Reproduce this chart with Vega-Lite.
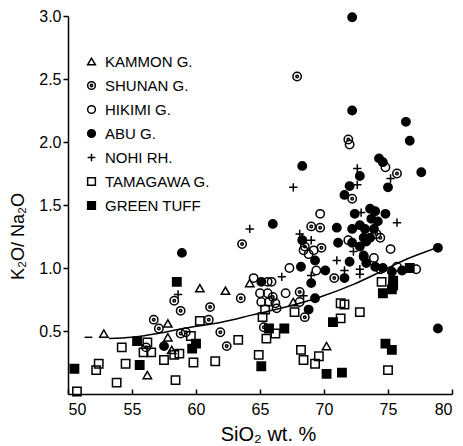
{
  "$schema": "https://vega.github.io/schema/vega-lite/v6.json",
  "width": 384,
  "height": 378,
  "autosize": "none",
  "padding": {"left": 68, "top": 16, "right": 11, "bottom": 52},
  "background": "white",
  "config": {
    "view": {"stroke": null},
    "font": "Liberation Sans",
    "axis": {"grid": false, "domainColor": "black", "tickColor": "black", "labelColor": "black", "titleColor": "black", "domainWidth": 1.5, "tickWidth": 1.5, "labelFontSize": 16, "titleFontWeight": "normal", "titleFont": "Liberation Sans", "labelFont": "Liberation Sans"},
    "legend": {"title": null, "orient": "none", "legendX": 16, "legendY": 38, "padding": 0, "rowPadding": 8, "labelFontSize": 15, "labelColor": "black", "labelFont": "Liberation Sans", "symbolStrokeWidth": 1.5, "symbolSize": 60, "labelOffset": 6}
  },
  "datasets": {
    "pts": [
      {"g": "KAMMON G.", "x": 52.8, "y": 0.48},
      {"g": "KAMMON G.", "x": 57.8, "y": 0.56},
      {"g": "KAMMON G.", "x": 57.8, "y": 0.45},
      {"g": "KAMMON G.", "x": 58.1, "y": 0.35},
      {"g": "KAMMON G.", "x": 56.2, "y": 0.15},
      {"g": "KAMMON G.", "x": 60.3, "y": 0.84},
      {"g": "KAMMON G.", "x": 62.3, "y": 0.82},
      {"g": "KAMMON G.", "x": 64.2, "y": 0.88},
      {"g": "KAMMON G.", "x": 67.6, "y": 0.73},
      {"g": "KAMMON G.", "x": 70.2, "y": 0.38},

      {"g": "SHUNAN G.", "x": 67.9, "y": 2.52},
      {"g": "SHUNAN G.", "x": 71.9, "y": 2.02},
      {"g": "SHUNAN G.", "x": 75.7, "y": 1.75},
      {"g": "SHUNAN G.", "x": 72.2, "y": 1.55},
      {"g": "SHUNAN G.", "x": 69.0, "y": 1.33},
      {"g": "SHUNAN G.", "x": 69.7, "y": 1.32},
      {"g": "SHUNAN G.", "x": 63.6, "y": 1.19},
      {"g": "SHUNAN G.", "x": 68.5, "y": 1.17},
      {"g": "SHUNAN G.", "x": 69.8, "y": 1.16},
      {"g": "SHUNAN G.", "x": 74.1, "y": 1.27},
      {"g": "SHUNAN G.", "x": 74.4, "y": 1.24},
      {"g": "SHUNAN G.", "x": 70.8, "y": 0.92},
      {"g": "SHUNAN G.", "x": 68.1, "y": 0.81},
      {"g": "SHUNAN G.", "x": 68.5, "y": 0.61},
      {"g": "SHUNAN G.", "x": 58.3, "y": 0.74},
      {"g": "SHUNAN G.", "x": 58.8, "y": 0.66},
      {"g": "SHUNAN G.", "x": 56.7, "y": 0.59},
      {"g": "SHUNAN G.", "x": 57.1, "y": 0.52},
      {"g": "SHUNAN G.", "x": 58.8, "y": 0.48},
      {"g": "SHUNAN G.", "x": 59.2, "y": 0.49},
      {"g": "SHUNAN G.", "x": 61.1, "y": 0.69},
      {"g": "SHUNAN G.", "x": 61.0, "y": 0.59},
      {"g": "SHUNAN G.", "x": 61.9, "y": 0.49},
      {"g": "SHUNAN G.", "x": 62.4, "y": 0.38},
      {"g": "SHUNAN G.", "x": 63.5, "y": 0.76},
      {"g": "SHUNAN G.", "x": 65.3, "y": 0.53},
      {"g": "SHUNAN G.", "x": 56.1, "y": 0.37},
      {"g": "SHUNAN G.", "x": 66.0, "y": 0.77},

      {"g": "HIKIMI G.", "x": 72.0, "y": 1.98},
      {"g": "HIKIMI G.", "x": 74.8, "y": 1.80},
      {"g": "HIKIMI G.", "x": 69.7, "y": 1.43},
      {"g": "HIKIMI G.", "x": 68.4, "y": 1.14},
      {"g": "HIKIMI G.", "x": 68.8, "y": 1.11},
      {"g": "HIKIMI G.", "x": 69.2, "y": 1.14},
      {"g": "HIKIMI G.", "x": 71.9, "y": 1.22},
      {"g": "HIKIMI G.", "x": 73.1, "y": 1.10},
      {"g": "HIKIMI G.", "x": 73.9, "y": 1.08},
      {"g": "HIKIMI G.", "x": 75.2, "y": 1.15},
      {"g": "HIKIMI G.", "x": 75.7, "y": 1.01},
      {"g": "HIKIMI G.", "x": 77.2, "y": 0.99},
      {"g": "HIKIMI G.", "x": 67.3, "y": 1.00},
      {"g": "HIKIMI G.", "x": 65.9, "y": 0.89},
      {"g": "HIKIMI G.", "x": 64.5, "y": 0.92},
      {"g": "HIKIMI G.", "x": 65.6, "y": 0.89},
      {"g": "HIKIMI G.", "x": 67.0, "y": 0.80},
      {"g": "HIKIMI G.", "x": 65.0, "y": 0.80},
      {"g": "HIKIMI G.", "x": 65.6, "y": 0.80},
      {"g": "HIKIMI G.", "x": 65.1, "y": 0.73},
      {"g": "HIKIMI G.", "x": 65.7, "y": 0.73},
      {"g": "HIKIMI G.", "x": 66.2, "y": 0.72},
      {"g": "HIKIMI G.", "x": 66.3, "y": 0.68},
      {"g": "HIKIMI G.", "x": 68.1, "y": 0.73},
      {"g": "HIKIMI G.", "x": 69.4, "y": 0.98},
      {"g": "HIKIMI G.", "x": 74.4, "y": 0.99},

      {"g": "ABU G.", "x": 72.2, "y": 2.99},
      {"g": "ABU G.", "x": 72.2, "y": 2.25},
      {"g": "ABU G.", "x": 76.4, "y": 2.16},
      {"g": "ABU G.", "x": 76.7, "y": 2.01},
      {"g": "ABU G.", "x": 68.3, "y": 1.81},
      {"g": "ABU G.", "x": 74.3, "y": 1.87},
      {"g": "ABU G.", "x": 74.6, "y": 1.84},
      {"g": "ABU G.", "x": 72.8, "y": 1.73},
      {"g": "ABU G.", "x": 77.6, "y": 1.76},
      {"g": "ABU G.", "x": 72.0, "y": 1.65},
      {"g": "ABU G.", "x": 75.0, "y": 1.64},
      {"g": "ABU G.", "x": 71.6, "y": 1.58},
      {"g": "ABU G.", "x": 72.4, "y": 1.43},
      {"g": "ABU G.", "x": 73.6, "y": 1.47},
      {"g": "ABU G.", "x": 74.0, "y": 1.45},
      {"g": "ABU G.", "x": 74.8, "y": 1.43},
      {"g": "ABU G.", "x": 73.7, "y": 1.39},
      {"g": "ABU G.", "x": 74.2, "y": 1.37},
      {"g": "ABU G.", "x": 66.0, "y": 1.35},
      {"g": "ABU G.", "x": 71.0, "y": 1.32},
      {"g": "ABU G.", "x": 72.2, "y": 1.31},
      {"g": "ABU G.", "x": 72.8, "y": 1.34},
      {"g": "ABU G.", "x": 73.2, "y": 1.31},
      {"g": "ABU G.", "x": 73.9, "y": 1.31},
      {"g": "ABU G.", "x": 68.3, "y": 1.22},
      {"g": "ABU G.", "x": 71.1, "y": 1.20},
      {"g": "ABU G.", "x": 72.2, "y": 1.20},
      {"g": "ABU G.", "x": 72.8, "y": 1.17},
      {"g": "ABU G.", "x": 73.1, "y": 1.24},
      {"g": "ABU G.", "x": 73.6, "y": 1.24},
      {"g": "ABU G.", "x": 73.3, "y": 1.21},
      {"g": "ABU G.", "x": 78.9, "y": 1.16},
      {"g": "ABU G.", "x": 69.3, "y": 1.06},
      {"g": "ABU G.", "x": 72.0, "y": 1.05},
      {"g": "ABU G.", "x": 73.3, "y": 1.04},
      {"g": "ABU G.", "x": 68.2, "y": 1.01},
      {"g": "ABU G.", "x": 74.0, "y": 1.01},
      {"g": "ABU G.", "x": 74.6, "y": 1.00},
      {"g": "ABU G.", "x": 70.1, "y": 0.98},
      {"g": "ABU G.", "x": 75.3, "y": 0.97},
      {"g": "ABU G.", "x": 76.1, "y": 0.98},
      {"g": "ABU G.", "x": 71.6, "y": 0.92},
      {"g": "ABU G.", "x": 69.0, "y": 0.88},
      {"g": "ABU G.", "x": 69.3, "y": 0.76},
      {"g": "ABU G.", "x": 68.8, "y": 0.67},
      {"g": "ABU G.", "x": 65.1, "y": 0.89},
      {"g": "ABU G.", "x": 58.9, "y": 1.12},
      {"g": "ABU G.", "x": 57.5, "y": 0.38},
      {"g": "ABU G.", "x": 78.9, "y": 0.52},
      {"g": "ABU G.", "x": 73.1, "y": 1.09},

      {"g": "NOHI RH.", "x": 72.6, "y": 1.79},
      {"g": "NOHI RH.", "x": 75.2, "y": 1.71},
      {"g": "NOHI RH.", "x": 67.6, "y": 1.64},
      {"g": "NOHI RH.", "x": 72.6, "y": 1.66},
      {"g": "NOHI RH.", "x": 72.9, "y": 1.44},
      {"g": "NOHI RH.", "x": 75.7, "y": 1.36},
      {"g": "NOHI RH.", "x": 64.2, "y": 1.31},
      {"g": "NOHI RH.", "x": 68.1, "y": 1.27},
      {"g": "NOHI RH.", "x": 68.3, "y": 1.24},
      {"g": "NOHI RH.", "x": 69.0, "y": 1.22},
      {"g": "NOHI RH.", "x": 72.3, "y": 1.13},
      {"g": "NOHI RH.", "x": 71.0, "y": 1.06},
      {"g": "NOHI RH.", "x": 72.8, "y": 0.99},
      {"g": "NOHI RH.", "x": 72.8, "y": 0.95},
      {"g": "NOHI RH.", "x": 71.6, "y": 0.98},
      {"g": "NOHI RH.", "x": 66.7, "y": 0.93},
      {"g": "NOHI RH.", "x": 69.0, "y": 0.94},
      {"g": "NOHI RH.", "x": 68.4, "y": 0.78},
      {"g": "NOHI RH.", "x": 58.6, "y": 0.79},

      {"g": "TAMAGAWA G.", "x": 50.7, "y": 0.02},
      {"g": "TAMAGAWA G.", "x": 52.4, "y": 0.24},
      {"g": "TAMAGAWA G.", "x": 52.2, "y": 0.19},
      {"g": "TAMAGAWA G.", "x": 53.8, "y": 0.09},
      {"g": "TAMAGAWA G.", "x": 54.2, "y": 0.37},
      {"g": "TAMAGAWA G.", "x": 54.5, "y": 0.24},
      {"g": "TAMAGAWA G.", "x": 56.2, "y": 0.41},
      {"g": "TAMAGAWA G.", "x": 55.9, "y": 0.33},
      {"g": "TAMAGAWA G.", "x": 56.5, "y": 0.33},
      {"g": "TAMAGAWA G.", "x": 57.5, "y": 0.27},
      {"g": "TAMAGAWA G.", "x": 58.3, "y": 0.31},
      {"g": "TAMAGAWA G.", "x": 58.7, "y": 0.32},
      {"g": "TAMAGAWA G.", "x": 58.4, "y": 0.11},
      {"g": "TAMAGAWA G.", "x": 59.6, "y": 0.46},
      {"g": "TAMAGAWA G.", "x": 60.3, "y": 0.58},
      {"g": "TAMAGAWA G.", "x": 59.8, "y": 0.25},
      {"g": "TAMAGAWA G.", "x": 61.5, "y": 0.26},
      {"g": "TAMAGAWA G.", "x": 63.3, "y": 0.43},
      {"g": "TAMAGAWA G.", "x": 64.9, "y": 0.31},
      {"g": "TAMAGAWA G.", "x": 65.4, "y": 0.67},
      {"g": "TAMAGAWA G.", "x": 65.2, "y": 0.61},
      {"g": "TAMAGAWA G.", "x": 65.5, "y": 0.44},
      {"g": "TAMAGAWA G.", "x": 66.2, "y": 0.48},
      {"g": "TAMAGAWA G.", "x": 67.7, "y": 0.65},
      {"g": "TAMAGAWA G.", "x": 68.2, "y": 0.35},
      {"g": "TAMAGAWA G.", "x": 68.4, "y": 0.27},
      {"g": "TAMAGAWA G.", "x": 69.3, "y": 0.24},
      {"g": "TAMAGAWA G.", "x": 69.6, "y": 0.30},
      {"g": "TAMAGAWA G.", "x": 71.3, "y": 0.72},
      {"g": "TAMAGAWA G.", "x": 71.6, "y": 0.71},
      {"g": "TAMAGAWA G.", "x": 72.8, "y": 0.65},
      {"g": "TAMAGAWA G.", "x": 71.3, "y": 0.60},
      {"g": "TAMAGAWA G.", "x": 74.5, "y": 0.89},
      {"g": "TAMAGAWA G.", "x": 75.0, "y": 0.19},

      {"g": "GREEN TUFF", "x": 50.5, "y": 0.20},
      {"g": "GREEN TUFF", "x": 55.4, "y": 0.42},
      {"g": "GREEN TUFF", "x": 55.6, "y": 0.23},
      {"g": "GREEN TUFF", "x": 58.5, "y": 0.89},
      {"g": "GREEN TUFF", "x": 60.0, "y": 0.40},
      {"g": "GREEN TUFF", "x": 59.7, "y": 0.36},
      {"g": "GREEN TUFF", "x": 65.7, "y": 0.52},
      {"g": "GREEN TUFF", "x": 66.9, "y": 0.52},
      {"g": "GREEN TUFF", "x": 65.1, "y": 0.22},
      {"g": "GREEN TUFF", "x": 70.2, "y": 0.16},
      {"g": "GREEN TUFF", "x": 71.4, "y": 0.17},
      {"g": "GREEN TUFF", "x": 70.7, "y": 0.57},
      {"g": "GREEN TUFF", "x": 74.8, "y": 0.40},
      {"g": "GREEN TUFF", "x": 75.3, "y": 0.35},
      {"g": "GREEN TUFF", "x": 75.4, "y": 0.90},
      {"g": "GREEN TUFF", "x": 75.4, "y": 0.86},
      {"g": "GREEN TUFF", "x": 75.3, "y": 0.83},
      {"g": "GREEN TUFF", "x": 74.6, "y": 0.80},
      {"g": "GREEN TUFF", "x": 76.7, "y": 1.00}
    ],
    "curve": [
      {"s": "a", "x": 51.3, "y": 0.45},
      {"s": "a", "x": 51.9, "y": 0.45},
      {"s": "b", "x": 53.2, "y": 0.44},
      {"s": "b", "x": 55.0, "y": 0.45},
      {"s": "b", "x": 57.0, "y": 0.48},
      {"s": "b", "x": 59.0, "y": 0.52},
      {"s": "b", "x": 62.0, "y": 0.57},
      {"s": "b", "x": 64.5, "y": 0.63},
      {"s": "b", "x": 67.0, "y": 0.69},
      {"s": "b", "x": 69.7, "y": 0.77},
      {"s": "b", "x": 72.3, "y": 0.87},
      {"s": "b", "x": 74.0, "y": 0.95},
      {"s": "b", "x": 76.0, "y": 1.05},
      {"s": "b", "x": 79.1, "y": 1.17}
    ]
  },
  "layer": [
    {
      "data": {"name": "curve"},
      "mark": {"type": "line", "color": "black", "strokeWidth": 1.5, "interpolate": "monotone"},
      "encoding": {
        "x": {"field": "x", "type": "quantitative"},
        "y": {"field": "y", "type": "quantitative"},
        "detail": {"field": "s"}
      }
    },
    {
      "data": {"name": "pts"},
      "mark": {"type": "point", "size": 70, "strokeWidth": 1.5, "opacity": 1},
      "encoding": {
        "x": {
          "field": "x", "type": "quantitative",
          "scale": {"domain": [50, 80], "nice": false, "zero": false},
          "axis": {"values": [50, 55, 60, 65, 70, 75, 80], "tickSize": -5, "labelPadding": 12, "title": "SiO₂  wt. %", "titleFontSize": 20, "titleX": 200, "titleY": 40, "titleAnchor": null, "titleAlign": "center", "titleBaseline": "middle"}
        },
        "y": {
          "field": "y", "type": "quantitative",
          "scale": {"domain": [0, 3], "nice": false},
          "axis": {"values": [0.5, 1, 1.5, 2, 2.5, 3], "format": ".1f", "tickSize": 5, "labelPadding": 2, "title": "K₂O/ Na₂O", "titleFontSize": 18, "titleX": -50, "titleY": 220, "titleAlign": "center", "titleBaseline": "middle", "titleAngle": -90}
        },
        "shape": {
          "field": "g", "type": "nominal",
          "scale": {
            "domain": ["KAMMON G.", "SHUNAN G.", "HIKIMI G.", "ABU G.", "NOHI RH.", "TAMAGAWA G.", "GREEN TUFF"],
            "range": ["triangle-up", "M-1,0A1,1,0,1,1,1,0A1,1,0,1,1,-1,0ZM-0.3,0A0.3,0.3,0,1,1,0.3,0A0.3,0.3,0,1,1,-0.3,0Z", "circle", "circle", "M-1,0L1,0M0,-1L0,1", "square", "square"]
          },
          "legend": {}
        },
        "fill": {
          "field": "g", "type": "nominal",
          "scale": {
            "domain": ["KAMMON G.", "SHUNAN G.", "HIKIMI G.", "ABU G.", "NOHI RH.", "TAMAGAWA G.", "GREEN TUFF"],
            "range": ["transparent", "transparent", "transparent", "black", "transparent", "transparent", "black"]
          },
          "legend": {}
        },
        "stroke": {
          "field": "g", "type": "nominal",
          "scale": {
            "domain": ["KAMMON G.", "SHUNAN G.", "HIKIMI G.", "ABU G.", "NOHI RH.", "TAMAGAWA G.", "GREEN TUFF"],
            "range": ["black", "black", "black", "black", "black", "black", "black"]
          },
          "legend": {}
        }
      }
    }
  ]
}
